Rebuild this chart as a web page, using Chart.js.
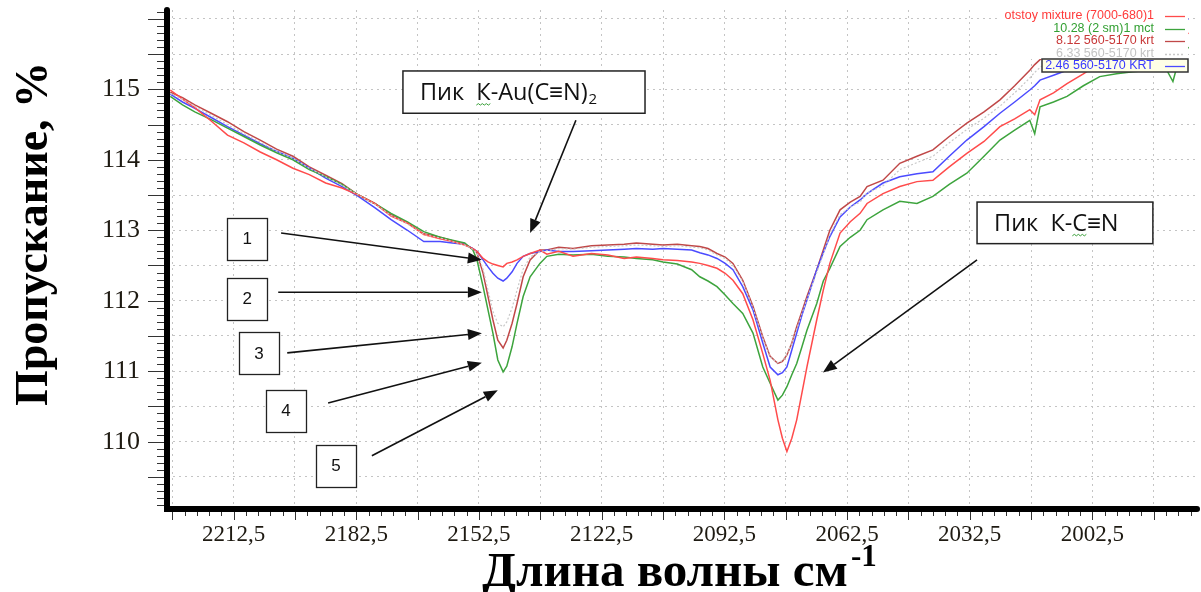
<!DOCTYPE html>
<html><head><meta charset="utf-8">
<script src="https://cdn.jsdelivr.net/npm/chart.js@4"></script>
<style>html,body{margin:0;padding:0;background:#fff}canvas{display:block}</style>
</head><body>
<canvas id="c" width="1201" height="592"></canvas>
<script>
// ---------------- DATA ----------------
const wavenumbers = [2228,2225,2222,2218,2214,2210,2206,2202,2198,2194,2190,2186,2182,2178,2174,2170,2166,2162,2159,2156,2154,2153,2151.5,2150.3,2149.1,2147.9,2146.6,2145.7,2144.4,2143.2,2141.7,2140,2137.6,2135.9,2133,2129.5,2125,2121,2117,2114,2110,2107.5,2104,2100.5,2098.5,2096.5,2094.3,2092.3,2090.4,2088,2085.5,2083.1,2081.3,2079.4,2078.3,2077.2,2076,2074.8,2073.5,2072.3,2069.9,2068.3,2066.7,2064.2,2061.7,2059.3,2057.6,2053.7,2049.6,2045.4,2041.5,2037.5,2033.2,2029,2025.1,2021.5,2017.8,2016.6,2015.3,2012,2008.7,2004.7,2000.7,1996.6,1992.6,1988.5,1984.3,1982.8,1981.6,1979];

const otstoyMixture = [114.99,114.86,114.74,114.55,114.35,114.24,114.11,114.0,113.88,113.79,113.67,113.6,113.5,113.38,113.2,113.1,112.94,112.88,112.84,112.79,112.74,112.7,112.6,112.55,112.52,112.5,112.48,112.53,112.55,112.58,112.63,112.67,112.72,112.66,112.7,112.63,112.67,112.65,112.6,112.62,112.6,112.58,112.57,112.55,112.53,112.5,112.46,112.39,112.29,112.1,111.73,111.25,110.87,110.31,110.05,109.86,110.05,110.31,110.7,111.06,111.73,112.15,112.53,112.96,113.12,113.24,113.38,113.52,113.62,113.69,113.71,113.9,114.09,114.26,114.47,114.58,114.71,114.64,114.85,114.95,115.08,115.22,115.37,115.42,115.5,115.58,115.62,115.55,115.68,115.8];

const sm2mct = [114.9,114.78,114.68,114.57,114.45,114.33,114.21,114.1,114.0,113.86,113.76,113.65,113.5,113.38,113.24,113.12,112.98,112.9,112.86,112.82,112.72,112.58,112.2,111.87,111.54,111.16,110.99,111.07,111.35,111.68,112.06,112.34,112.53,112.63,112.66,112.65,112.66,112.63,112.62,112.6,112.58,112.55,112.52,112.44,112.34,112.28,112.2,112.08,111.96,111.82,111.54,111.06,110.83,110.59,110.66,110.78,110.95,111.11,111.35,111.58,111.96,112.28,112.46,112.77,112.9,113.0,113.15,113.29,113.41,113.38,113.48,113.65,113.81,114.05,114.28,114.42,114.56,114.37,114.75,114.82,114.9,115.05,115.18,115.22,115.25,115.27,115.27,115.11,115.37,115.6];

const krt812 = [114.96,114.88,114.78,114.66,114.54,114.4,114.28,114.15,114.05,113.9,113.78,113.66,113.5,113.38,113.22,113.1,112.95,112.9,112.85,112.8,112.74,112.68,112.39,112.06,111.73,111.44,111.33,111.44,111.68,111.96,112.34,112.58,112.72,112.72,112.76,112.74,112.78,112.79,112.8,112.82,112.8,112.79,112.8,112.78,112.77,112.74,112.67,112.62,112.53,112.29,111.92,111.49,111.21,111.11,111.14,111.23,111.4,111.63,111.85,112.06,112.44,112.72,113.0,113.29,113.4,113.48,113.62,113.71,113.95,114.05,114.14,114.33,114.52,114.68,114.85,115.05,115.27,115.35,115.42,115.55,115.65,115.75,115.85,115.92,116.0,116.05,116.1,116.08,116.12,116.2];

const krt633 = [114.94,114.86,114.76,114.63,114.5,114.37,114.25,114.12,114.02,113.88,113.76,113.64,113.5,113.37,113.21,113.09,112.94,112.89,112.84,112.79,112.73,112.68,112.45,112.15,111.85,111.68,111.63,111.7,111.9,112.15,112.45,112.62,112.7,112.71,112.74,112.73,112.76,112.77,112.78,112.79,112.78,112.77,112.78,112.76,112.75,112.72,112.65,112.6,112.5,112.27,111.9,111.47,111.2,111.12,111.15,111.24,111.4,111.6,111.82,112.02,112.4,112.66,112.94,113.22,113.33,113.4,113.53,113.63,113.86,113.96,114.05,114.24,114.43,114.59,114.76,114.95,115.16,115.24,115.31,115.44,115.54,115.64,115.74,115.82,115.9,115.95,116.0,115.98,116.02,116.1];

const krt246 = [114.93,114.82,114.73,114.6,114.47,114.35,114.23,114.12,114.02,113.88,113.74,113.62,113.48,113.32,113.15,113.0,112.84,112.84,112.82,112.8,112.74,112.7,112.58,112.48,112.39,112.32,112.28,112.32,112.41,112.53,112.63,112.67,112.7,112.72,112.7,112.7,112.71,112.72,112.73,112.74,112.73,112.74,112.73,112.72,112.68,112.65,112.6,112.53,112.44,112.2,111.87,111.4,111.06,110.95,110.98,111.06,111.3,111.54,111.8,112.01,112.44,112.68,112.91,113.19,113.33,113.43,113.52,113.67,113.76,113.8,113.83,114.05,114.28,114.47,114.66,114.82,114.99,115.05,115.13,115.2,115.27,115.38,115.5,115.6,115.7,115.78,115.85,115.87,115.92,116.0];

const seriesNames = ['otstoy mixture (7000-680)1','10.28 (2 sm)1 mct','8.12 560-5170 krt','6.33 560-5170 krt','2.46 560-5170 KRT'];

const xGridValues = [2227.5,2212.5,2197.5,2182.5,2167.5,2152.5,2137.5,2122.5,2107.5,2092.5,2077.5,2062.5,2047.5,2032.5,2017.5,2002.5,1987.5];
const xTickLabels = {2212.5:'2212,5',2182.5:'2182,5',2152.5:'2152,5',2122.5:'2122,5',2092.5:'2092,5',2062.5:'2062,5',2032.5:'2032,5',2002.5:'2002,5'};
const yGridValues = [109.5,110,110.5,111,111.5,112,112.5,113,113.5,114,114.5,115,115.5,116];
const yTickLabels = {110:'110',111:'111',112:'112',113:'113',114:'114',115:'115'};

const yTitle = 'Пропускание, %';
const xTitle = 'Длина волны см';
const xTitleSup = '-1';

// annotation anchors in data units [wavenumber, transmission]
const numberBoxes = [
  {text:'1', at:[2209.2,112.88]},
  {text:'2', at:[2209.2,112.03]},
  {text:'3', at:[2206.3,111.26]},
  {text:'4', at:[2199.7,110.44]},
  {text:'5', at:[2187.5,109.66]}
];
const numberArrows = [
  {from:[2200.9,112.96], to:[2151.8,112.58]},
  {from:[2201.6,112.12], to:[2151.8,112.12]},
  {from:[2199.4,111.26], to:[2151.8,111.54]},
  {from:[2189.4,110.55], to:[2151.8,111.12]},
  {from:[2178.7,109.80], to:[2147.9,110.73]}
];
const peakLabels = [
  {main:'Пик  К-Au(C≡N)', sub:'2', box:[2171.1,115.26,2111.9,114.66], arrowFrom:[2128.8,114.56], arrowTo:[2140.0,112.96], squiggle:'К'},
  {main:'Пик  К-C≡N', sub:'', box:[2030.7,113.40,1987.7,112.81], arrowFrom:[2030.7,112.58], arrowTo:[2068.4,110.98], squiggle:'C'}
];

const colors = ['#ff4b4b','#3da43d','#c04848','#c8c8c8','#4b4bff'];
const textColors = ['#ff3a3a','#33a033','#c83838','#c4c4c4','#3a3aff'];

// ---------------- CHART ----------------
const seriesValues = [otstoyMixture, sm2mct, krt812, krt633, krt246];
const drawOrder = [3,0,1,4,2];
const datasets = drawOrder.map(i => ({
  label: seriesNames[i],
  data: wavenumbers.map((w,k)=>({x:w,y:seriesValues[i][k]})),
  borderColor: colors[i],
  borderWidth: i===3 ? 1.2 : 1.5,
  borderDash: i===3 ? [2,2] : [],
  pointRadius: 0,
  tension: 0,
  fill: false
}));

function arrow(ctx, x1,y1,x2,y2, head=14, hw=5.5){
  const a = Math.atan2(y2-y1,x2-x1);
  const bx = x2 - head*Math.cos(a), by = y2 - head*Math.sin(a);
  ctx.beginPath(); ctx.moveTo(x1,y1); ctx.lineTo(bx,by); ctx.stroke();
  ctx.beginPath();
  ctx.moveTo(x2,y2);
  ctx.lineTo(bx + hw*Math.sin(a), by - hw*Math.cos(a));
  ctx.lineTo(bx - hw*Math.sin(a), by + hw*Math.cos(a));
  ctx.closePath(); ctx.fill();
}
function squiggle(ctx,x1,x2,y){
  ctx.save(); ctx.strokeStyle='#3aa03a'; ctx.lineWidth=1;
  ctx.beginPath(); ctx.moveTo(x1,y);
  let up=true; for(let x=x1+2;x<=x2;x+=2){ctx.lineTo(x, up? y-1.5 : y); up=!up;}
  ctx.stroke(); ctx.restore();
}

const decor = {
  id:'decor',
  beforeDatasetsDraw(chart){
    const {ctx, chartArea:a, scales:{x,y}} = chart;
    ctx.save();
    ctx.strokeStyle='#333'; ctx.lineWidth=1;
    for(let v=109.1; v<=116.1001; v+=0.1){
      const vv = Math.round(v*10)/10;
      const py = Math.round(y.getPixelForValue(vv))+0.5;
      const major = Math.abs(vv*2 - Math.round(vv*2))<1e-6;
      ctx.beginPath(); ctx.moveTo(a.left-(major?19:10), py); ctx.lineTo(a.left, py); ctx.stroke();
    }
    for(let v=2227.5; v>=1978; v-=3){
      const px = Math.round(x.getPixelForValue(v))+0.5;
      const major = Math.abs(((2227.5-v)%15))<1e-6;
      ctx.beginPath(); ctx.moveTo(px, a.bottom); ctx.lineTo(px, a.bottom+(major?11:7)); ctx.stroke();
    }
    ctx.restore();
  },
  afterDatasetsDraw(chart){
    const {ctx, chartArea:a, scales:{x,y}} = chart;
    const P = p => [x.getPixelForValue(p[0]), y.getPixelForValue(p[1])];
    ctx.save();
    ctx.strokeStyle='#000'; ctx.lineCap='round';
    ctx.lineWidth=6;
    ctx.beginPath(); ctx.moveTo(a.left, a.top); ctx.lineTo(a.left, a.bottom); ctx.lineTo(a.right+2, a.bottom); ctx.stroke();
    ctx.lineCap='butt';
    numberBoxes.forEach(b=>{
      const [cx,cy]=P(b.at);
      ctx.fillStyle='#fff'; ctx.fillRect(cx-20,cy-21,40,42);
      ctx.strokeStyle='#222'; ctx.lineWidth=1.3; ctx.strokeRect(Math.round(cx-20)+0.5,Math.round(cy-21)+0.5,40,42);
      ctx.fillStyle='#111'; ctx.font='17px "Liberation Sans", Arial, sans-serif';
      ctx.textAlign='center'; ctx.textBaseline='middle'; ctx.fillText(b.text,cx,cy+1);
    });
    ctx.strokeStyle='#111'; ctx.fillStyle='#111'; ctx.lineWidth=1.6;
    numberArrows.forEach(r=>{const [x1,y1]=P(r.from),[x2,y2]=P(r.to); arrow(ctx,x1,y1,x2,y2);});
    peakLabels.forEach(L=>{
      const [l,t]=P([L.box[0],L.box[1]]), [r,b]=P([L.box[2],L.box[3]]);
      ctx.fillStyle='#fff'; ctx.fillRect(l,t,r-l,b-t);
      ctx.strokeStyle='#222'; ctx.lineWidth=1.5; ctx.strokeRect(l,t,r-l,b-t);
      ctx.fillStyle='#111'; ctx.font='23.5px "Open Sans", "Liberation Sans", sans-serif';
      ctx.textAlign='left'; ctx.textBaseline='alphabetic';
      const tx=l+17, ty=(t+b)/2+8;
      ctx.fillText(L.main,tx,ty);
      const w=ctx.measureText(L.main).width;
      const pre = L.main.slice(0, L.main.indexOf(L.squiggle, 4));
      const sx = tx + ctx.measureText(pre).width, sw = ctx.measureText(L.squiggle).width;
      squiggle(ctx, sx, sx+sw, ty+5);
      if(L.sub){ctx.font='15px "Open Sans", "Liberation Sans", sans-serif'; ctx.fillText(L.sub, tx+w+1, ty+4);}
      ctx.strokeStyle='#111'; ctx.fillStyle='#111'; ctx.lineWidth=1.6;
      const [x1,y1]=P(L.arrowFrom),[x2,y2]=P(L.arrowTo); arrow(ctx,x1,y1,x2,y2);
    });
    // legend
    const right = 1154, rowY = [16,28.5,41,53.5,66];
    ctx.fillStyle='#fff'; ctx.fillRect(1000,8,188,51);
    ctx.fillStyle='#ffffe6'; ctx.fillRect(1042,59,146,13);
    ctx.strokeStyle='#333'; ctx.lineWidth=1.5; ctx.strokeRect(1042,59,146,13);
    ctx.font='12.5px "Liberation Sans", Arial, sans-serif'; ctx.textAlign='right'; ctx.textBaseline='middle';
    seriesNames.forEach((n,i)=>{
      ctx.fillStyle=textColors[i]; ctx.fillText(n,right,rowY[i]);
      ctx.strokeStyle=colors[i]; ctx.lineWidth=1.3; ctx.setLineDash(i===3?[2,2]:[]);
      ctx.beginPath(); ctx.moveTo(1165,Math.round(rowY[i])+0.5); ctx.lineTo(1185,Math.round(rowY[i])+0.5); ctx.stroke();
      ctx.setLineDash([]);
    });
    // axis titles
    ctx.fillStyle='#000';
    ctx.font='bold 46px "Liberation Serif", "Times New Roman", serif';
    ctx.save(); ctx.translate(47,234); ctx.rotate(-Math.PI/2);
    ctx.textAlign='center'; ctx.textBaseline='alphabetic'; ctx.fillText(yTitle,0,0); ctx.restore();
    ctx.font='bold 49px "Liberation Serif", "Times New Roman", serif';
    ctx.textAlign='left'; ctx.textBaseline='alphabetic';
    const tw = ctx.measureText(xTitle).width;
    ctx.font='bold 31px "Liberation Serif", serif';
    const sw2 = ctx.measureText(xTitleSup).width;
    const x0 = 680 - (tw+sw2+4)/2;
    ctx.font='bold 49px "Liberation Serif", "Times New Roman", serif';
    ctx.fillText(xTitle,x0,586);
    ctx.font='bold 31px "Liberation Serif", serif';
    ctx.fillText(xTitleSup,x0+tw+3,566);
    ctx.restore();
  }
};

new Chart(document.getElementById('c'), {
  type:'line',
  data:{datasets},
  options:{
    responsive:false, animation:false, devicePixelRatio:1,
    layout:{padding:{top:10,right:6,left:0,bottom:0}},
    plugins:{legend:{display:false}, tooltip:{enabled:false}},
    scales:{
      x:{type:'linear', reverse:true, min:1977.4, max:2228.8,
        afterBuildTicks:s=>{s.ticks = xGridValues.map(v=>({value:v}));},
        afterFit:s=>{s.height=83; s.paddingLeft=0; s.paddingRight=0;},
        ticks:{autoSkip:false, maxRotation:0, padding:12, color:'#1e1a12',
          font:{family:'"Liberation Serif", "Times New Roman", serif', size:23},
          callback:v=>xTickLabels[v]||''},
        grid:{color:'#c4c4c4', lineWidth:1, drawTicks:false},
        border:{display:false, dash:[2,4]}
      },
      y:{type:'linear', min:109.045, max:116.125,
        afterBuildTicks:s=>{s.ticks = yGridValues.map(v=>({value:v}));},
        afterFit:s=>{s.width=167; s.paddingTop=0; s.paddingBottom=0;},
        ticks:{autoSkip:false, padding:27, color:'#1e1a12',
          font:{family:'"Liberation Serif", "Times New Roman", serif', size:26},
          callback:v=>yTickLabels[v]||''},
        grid:{color:'#c4c4c4', lineWidth:1, drawTicks:false},
        border:{display:false, dash:[2,4]}
      }
    }
  },
  plugins:[decor]
});
</script>
</body></html>
